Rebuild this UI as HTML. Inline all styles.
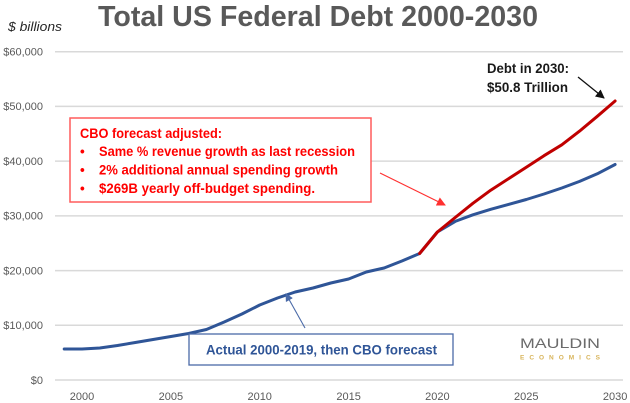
<!DOCTYPE html>
<html>
<head>
<meta charset="utf-8">
<style>
html,body{margin:0;padding:0;background:#fff;}
svg{display:block;}
text{font-family:"Liberation Sans",sans-serif;}
</style>
</head>
<body>
<svg width="630" height="403" viewBox="0 0 630 403" xmlns="http://www.w3.org/2000/svg">
<defs>
<marker id="ab" markerWidth="8" markerHeight="8" refX="7" refY="4" orient="auto" markerUnits="userSpaceOnUse"><path d="M0,0 L8,4 L0,8 z" fill="#4a6aa8"/></marker>
<marker id="ar" markerWidth="9" markerHeight="9" refX="8" refY="4.5" orient="auto" markerUnits="userSpaceOnUse"><path d="M0,0 L9,4.5 L0,9 z" fill="#ff3030"/></marker>
<marker id="ak" markerWidth="9" markerHeight="9" refX="8" refY="4.5" orient="auto" markerUnits="userSpaceOnUse"><path d="M0,0 L9,4.5 L0,9 z" fill="#111"/></marker>
</defs>

<!-- title -->
<text x="98" y="26" font-size="29" font-weight="bold" fill="#595959" textLength="440" lengthAdjust="spacingAndGlyphs">Total US Federal Debt 2000-2030</text>
<text x="8" y="31" font-size="12.5" font-style="italic" fill="#262626" textLength="54" lengthAdjust="spacingAndGlyphs">$ billions</text>

<!-- gridlines -->
<g stroke="#d9d9d9" stroke-width="1.5">
<line x1="55" y1="51.7" x2="623" y2="51.7"/>
<line x1="55" y1="106.4" x2="623" y2="106.4"/>
<line x1="55" y1="161.1" x2="623" y2="161.1"/>
<line x1="55" y1="215.9" x2="623" y2="215.9"/>
<line x1="55" y1="270.6" x2="623" y2="270.6"/>
<line x1="55" y1="325.3" x2="623" y2="325.3"/>
<line x1="55" y1="380" x2="623" y2="380"/>
</g>

<!-- y labels -->
<g font-size="11" fill="#595959" text-anchor="end">
<text x="43" y="55.5">$60,000</text>
<text x="43" y="110.2">$50,000</text>
<text x="43" y="164.9">$40,000</text>
<text x="43" y="219.7">$30,000</text>
<text x="43" y="274.4">$20,000</text>
<text x="43" y="329.1">$10,000</text>
<text x="43" y="383.8">$0</text>
</g>

<!-- x labels -->
<g font-size="11" fill="#595959" text-anchor="middle">
<text x="82" y="400">2000</text>
<text x="170.9" y="400">2005</text>
<text x="259.7" y="400">2010</text>
<text x="348.6" y="400">2015</text>
<text x="437.4" y="400">2020</text>
<text x="526.3" y="400">2025</text>
<text x="615.1" y="400">2030</text>
</g>

<!-- blue series -->
<polyline fill="none" stroke="#2f5597" stroke-width="3" stroke-linejoin="round" stroke-linecap="round"
points="64.2,349 82,349 99.8,348 117.5,345.5 135.3,342.5 153.1,339.5 170.9,336.5 188.6,333.5 206.4,329.5 224.2,322 241.9,314 259.7,305 277.5,298 295.2,292 313,288 330.8,283 348.6,279 366.3,272 384.1,268 401.9,261 419.6,253.5 437.4,232 455.2,221.4 472.9,214.8 490.7,209.3 508.5,204.4 526.3,199.5 544,194 561.8,188 579.6,181.4 597.3,173.8 615.1,164.5"/>

<!-- red series -->
<polyline fill="none" stroke="#c00000" stroke-width="3" stroke-linejoin="round" stroke-linecap="round"
points="419.6,253.5 437.4,232 455.2,217.5 472.9,203.3 490.7,190.2 508.5,178.7 526.3,167.2 544,155.7 561.8,144.8 579.6,131.1 597.3,116.3 615.1,101"/>

<!-- red box -->
<rect x="70" y="118" width="301" height="84" fill="#fff" stroke="#ff5c5c" stroke-width="1.5"/>
<g font-size="13.5" font-weight="bold" fill="#ff0000">
<text x="80" y="138" textLength="142" lengthAdjust="spacingAndGlyphs">CBO forecast adjusted:</text>
<text x="80" y="156">•</text>
<text x="99" y="156" textLength="256" lengthAdjust="spacingAndGlyphs">Same % revenue growth as last recession</text>
<text x="80" y="174.5">•</text>
<text x="99" y="174.5" textLength="239" lengthAdjust="spacingAndGlyphs">2% additional annual spending growth</text>
<text x="80" y="193">•</text>
<text x="99" y="193" textLength="216" lengthAdjust="spacingAndGlyphs">$269B yearly off-budget spending.</text>
</g>
<line x1="380" y1="173" x2="445" y2="205" stroke="#ff3030" stroke-width="1.2" marker-end="url(#ar)"/>

<!-- debt in 2030 -->
<g font-size="13.5" font-weight="bold" fill="#1a1a1a">
<text x="487" y="73" textLength="82" lengthAdjust="spacingAndGlyphs">Debt in 2030:</text>
<text x="487" y="92" textLength="81" lengthAdjust="spacingAndGlyphs">$50.8 Trillion</text>
</g>
<line x1="578" y1="77" x2="604" y2="98" stroke="#111" stroke-width="1.3" marker-end="url(#ak)"/>

<!-- blue box -->
<rect x="189" y="334" width="264" height="31" fill="#fff" stroke="#4a6aa8" stroke-width="1.3"/>
<text x="206" y="354.5" font-size="13.5" font-weight="bold" fill="#2f5597" textLength="231" lengthAdjust="spacingAndGlyphs">Actual 2000-2019, then CBO forecast</text>
<line x1="305" y1="328" x2="286" y2="294" stroke="#4a6aa8" stroke-width="1.1" marker-end="url(#ab)"/>

<!-- logo -->
<text x="520" y="348" font-size="13.5" fill="#6b6b6b" textLength="80" lengthAdjust="spacingAndGlyphs">MAULDIN</text>
<text x="520" y="359.5" font-size="6.5" font-weight="bold" fill="#d8b45a" textLength="80" lengthAdjust="spacing">ECONOMICS</text>
</svg>
</body>
</html>
